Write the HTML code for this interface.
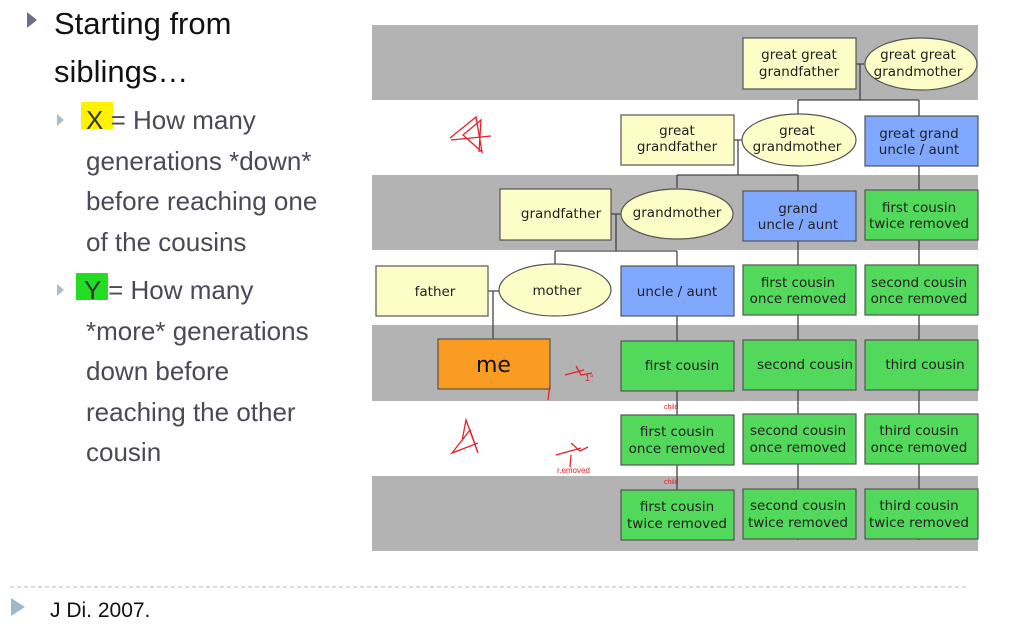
<!DOCTYPE html>
<html><head><meta charset="utf-8"><style>
html,body{margin:0;padding:0;background:#fff;}
svg{display:block;font-family:"Liberation Sans","DejaVu Sans",sans-serif;}
</style></head><body>
<svg width="1027" height="642" viewBox="0 0 1027 642" xmlns="http://www.w3.org/2000/svg">
<rect width="1027" height="642" fill="#fff"/>
<!-- left text -->
<polygon points="27,12 37,20 27,28" fill="#6b6f8e"/>
<text x="54" y="34" font-size="31" fill="#111">Starting from</text>
<text x="54" y="82" font-size="31" fill="#111">siblings…</text>
<polygon points="57,114 64,120 57,126" fill="#a8bccc"/>
<rect x="81" y="102" width="32" height="27" fill="#fff200"/>
<g font-size="26" fill="#4a4a56">
<text x="86" y="129"><tspan fill="#333">X</tspan> = How many</text>
<text x="86" y="170">generations *down*</text>
<text x="86" y="210">before reaching one</text>
<text x="86" y="251">of the cousins</text>
</g>
<polygon points="57,284 64,290 57,296" fill="#a8bccc"/>
<rect x="76" y="273" width="32" height="27" fill="#22dd22"/>
<g font-size="26" fill="#4a4a56">
<text x="84" y="299"><tspan fill="#333">Y</tspan> = How many</text>
<text x="86" y="340">*more* generations</text>
<text x="86" y="380">down before</text>
<text x="86" y="421">reaching the other</text>
<text x="86" y="461">cousin</text>
</g>
<!-- footer -->
<line x1="10" y1="587" x2="968" y2="587" stroke="#a8bccc" stroke-width="1" stroke-dasharray="4,3"/>
<polygon points="11,598 25,607 11,616" fill="#a0b8cc"/>
<text x="50" y="617" font-size="21" fill="#111">J Di. 2007.</text>

<!-- bands -->
<rect x="372" y="25" width="606" height="75" fill="#b3b3b3"/>
<rect x="372" y="175" width="606" height="75" fill="#b3b3b3"/>
<rect x="372" y="325" width="606" height="76" fill="#b3b3b3"/>
<rect x="372" y="476" width="606" height="75" fill="#b3b3b3"/>

<!-- connectors -->
<g stroke="#444" stroke-width="1.3" fill="none">
<path d="M856,64 H864 M860,64 V100 M798,100 H919 M798,100 V115 M919,100 V116"/>
<path d="M734,140 H742 M738,140 V175 M677,175 H798 M677,175 V188 M798,175 V191 M919,166 V540"/>
<path d="M611,214 H621 M616,214 V251 M555,251 H677 M555,251 V265 M677,251 V540 M798,241 V540"/>
<path d="M488,291 H500 M493,291 V339"/>
</g>

<g stroke="#555" stroke-width="1.2">
<!-- yellow -->
<rect x="743" y="38" width="113" height="51" fill="#fdfdc8"/>
<ellipse cx="921" cy="64" rx="56" ry="26" fill="#fdfdc8"/>
<rect x="621" y="115" width="113" height="50" fill="#fdfdc8"/>
<ellipse cx="799" cy="140" rx="57" ry="26" fill="#fdfdc8"/>
<rect x="500" y="189" width="111" height="51" fill="#fdfdc8"/>
<ellipse cx="677" cy="214" rx="56" ry="25" fill="#fdfdc8"/>
<rect x="376" y="266" width="112" height="50" fill="#fdfdc8"/>
<ellipse cx="555" cy="290" rx="56" ry="26" fill="#fdfdc8"/>
<!-- blue -->
<rect x="865" y="116" width="113" height="50" fill="#80a8ff"/>
<rect x="743" y="191" width="113" height="50" fill="#80a8ff"/>
<rect x="621" y="266" width="113" height="50" fill="#80a8ff"/>
<!-- orange -->
<rect x="438" y="339" width="112" height="50" fill="#fa9c22"/>
<!-- green -->
<g fill="#52d85a">
<rect x="865" y="190" width="113" height="50"/>
<rect x="743" y="265" width="113" height="50"/>
<rect x="865" y="265" width="113" height="50"/>
<rect x="621" y="341" width="113" height="50"/>
<rect x="743" y="340" width="113" height="50"/>
<rect x="865" y="340" width="113" height="50"/>
<rect x="621" y="415" width="113" height="50"/>
<rect x="743" y="414" width="113" height="50"/>
<rect x="865" y="414" width="113" height="50"/>
<rect x="621" y="490" width="113" height="50"/>
<rect x="743" y="489" width="113" height="50"/>
<rect x="865" y="489" width="113" height="50"/>
</g>
</g>

<g font-size="13.5" fill="#222" text-anchor="middle" font-family="'DejaVu Sans','Liberation Sans',sans-serif">
<text x="799" y="59">great great</text><text x="799" y="76">grandfather</text>
<text x="918" y="59">great great</text><text x="918" y="76">grandmother</text>
<text x="677" y="135">great</text><text x="677" y="151">grandfather</text>
<text x="797" y="135">great</text><text x="797" y="151">grandmother</text>
<text x="919" y="138">great grand</text><text x="919" y="154">uncle / aunt</text>
<text x="561" y="218">grandfather</text>
<text x="677" y="217">grandmother</text>
<text x="798" y="213">grand</text><text x="798" y="229">uncle / aunt</text>
<text x="919" y="212">first cousin</text><text x="919" y="228">twice removed</text>
<text x="435" y="296">father</text>
<text x="557" y="295">mother</text>
<text x="677" y="296">uncle / aunt</text>
<text x="798" y="287">first cousin</text><text x="798" y="303">once removed</text>
<text x="919" y="287">second cousin</text><text x="919" y="303">once removed</text>
<text x="682" y="370">first cousin</text>
<text x="805" y="369">second cousin</text>
<text x="925" y="369">third cousin</text>
<text x="677" y="436">first cousin</text><text x="677" y="453">once removed</text>
<text x="798" y="435">second cousin</text><text x="798" y="452">once removed</text>
<text x="919" y="435">third cousin</text><text x="919" y="452">once removed</text>
<text x="677" y="511">first cousin</text><text x="677" y="528">twice removed</text>
<text x="798" y="510">second cousin</text><text x="798" y="527">twice removed</text>
<text x="919" y="510">third cousin</text><text x="919" y="527">twice removed</text>
</g>
<text x="476" y="372" font-size="22" fill="#111" font-family="'DejaVu Sans',sans-serif">me</text>

<!-- red annotations -->
<g stroke="#e8202a" stroke-width="1.3" fill="none">
<path d="M450,138 L476,117 L482,152 L463,135 L481,120 L479,152"/>
<path d="M451,140 L491,136"/>
<path d="M462,441 L466,420 L478,453 L470,430 L452,453 L478,443"/>
<path d="M550,385 L548,400 M565,375 L584,370 M576,366 L581,375 L592,373"/>
<path d="M570,467 L571,455 M556,455 L581,448 M571,443 L580,451 L588,447"/>
</g>
<text x="585" y="381" font-size="9" fill="#e8202a">1°</text>
<text x="557" y="473" font-size="8" fill="#e8202a">r.emoved</text>
<text x="664" y="409" font-size="7" fill="#e8202a">child</text>
<text x="664" y="484" font-size="7" fill="#e8202a">child</text>
</svg>
</body></html>
